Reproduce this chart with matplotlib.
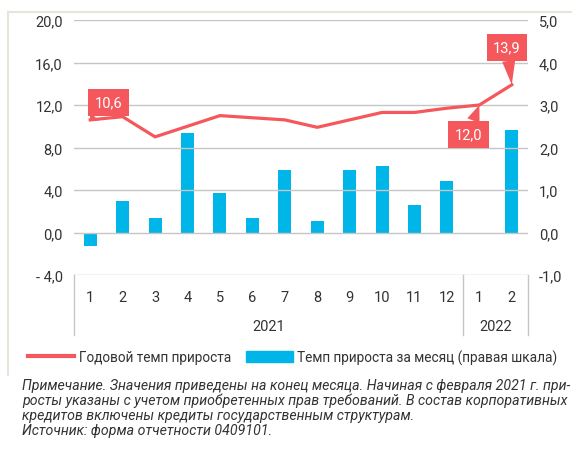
import matplotlib.pyplot as plt
from matplotlib.lines import Line2D
from matplotlib.patches import Patch
import numpy as np

plt.rcParams['font.family'] = ['Roboto', 'DejaVu Sans']

# данные
months = ['1', '2', '3', '4', '5', '6', '7', '8', '9', '10', '11', '12', '1', '2']
years = ['2021', '2022']
year_spans = [(0, 11), (12, 13)]
annual = [10.6, 10.9, 9.0, 10.0, 11.0, 10.8, 10.6, 9.9, 10.6, 11.3, 11.3, 11.7, 12.0, 13.9]
monthly = [-0.32, 0.73, 0.34, 2.35, 0.92, 0.35, 1.46, 0.26, 1.47, 1.56, 0.64, 1.21, -0.03, 2.40]
left_ticks = [-4, 0, 4, 8, 12, 16, 20]
left_labels = ['- 4,0', '0,0', '4,0', '8,0', '12,0', '16,0', '20,0']
right_ticks = [-1, 0, 1, 2, 3, 4, 5]
right_labels = ['-1,0', '0,0', '1,0', '2,0', '3,0', '4,0', '5,0']
labels_shown = {0: (13, 12.5), 12: (-8, -21), 13: (-3.5, 27)}
note = ['Примечание. Значения приведены на конец месяца. Начиная с февраля 2021 г. при-',
        'росты указаны с учетом приобретенных прав требований. В состав корпоративных',
        'кредитов включены кредиты государственным структурам.',
        'Источник: форма отчетности 0409101.']

red = '#F4585C'
blue = '#00B5E8'
grid = '#C6C6C6'
txt = '#333333'

fig = plt.figure(figsize=(5.72, 4.52), dpi=100)
ax = fig.add_axes([74/572, 1-276/452, 454/572, 255/452])
ax2 = ax.twinx()

x = np.arange(len(months))

ax2.bar(x, monthly, width=0.4, color=blue, zorder=2)
ax2.set_ylim(-1, 5)
ax2.set_yticks(right_ticks)
ax2.set_yticklabels(right_labels)

ax.set_ylim(-4, 20)
ax.set_yticks(left_ticks)
ax.set_yticklabels(left_labels)
ax.set_xlim(-0.5, len(months) - 0.5)
ax.yaxis.grid(True, color=grid, lw=1)
ax.set_axisbelow(True)

# линия поверх столбцов
ax.set_zorder(ax2.get_zorder() + 1)
ax.patch.set_visible(False)
ax2.patch.set_visible(True)
ax.plot(x, annual, color=red, lw=2.3, solid_joinstyle='round', zorder=3)

for i, (dx, dy) in labels_shown.items():
    ax.annotate(f'{annual[i]:.1f}'.replace('.', ','), xy=(x[i], annual[i]),
                xytext=(dx, dy), textcoords='offset points',
                ha='center', va='center', color='white', fontsize=10.5,
                bbox=dict(boxstyle='square,pad=0.45', fc=red, ec='none'),
                arrowprops=dict(arrowstyle='wedge,tail_width=0.9,shrink_factor=0.5',
                                fc=red, ec='none', shrinkA=0, shrinkB=0), zorder=5)

for a in (ax, ax2):
    for s in a.spines.values():
        s.set_visible(False)
    a.tick_params(length=0, labelsize=10.5, labelcolor=txt)
ax.tick_params(axis='y', pad=8)
ax2.tick_params(axis='y', pad=8)

ax.set_xticks(x)
ax.set_xticklabels(months)
ax.tick_params(axis='x', pad=11)

# годовая шкала под осью
for (a, b), yr in zip(year_spans, years):
    ax.text((a + b) / 2, -0.2, yr, transform=ax.get_xaxis_transform(),
            ha='center', va='center', fontsize=10.5, color=txt)
for xs in [-0.5, 11.5, len(months) - 0.5]:
    ax.plot([xs, xs], [0, -0.235], transform=ax.get_xaxis_transform(),
            color=grid, lw=1, clip_on=False)

# легенда
handles = [Line2D([], [], color=red, lw=3),
           Patch(color=blue)]
fig.legend(handles, ['Годовой темп прироста', 'Темп прироста за месяц (правая шкала)'],
           loc='center left', bbox_to_anchor=(28/572, 1-358/452), ncol=2,
           frameon=False, fontsize=9.8, handlelength=3.4, handleheight=0.85,
           handletextpad=0.35, columnspacing=1.1, borderpad=0, borderaxespad=0,
           labelcolor=txt)

# рамка
fig.add_artist(Line2D([8/572, 1], [1-13/452, 1-13/452], color='#E8E4DC', lw=1.5))
fig.add_artist(Line2D([8/572, 8/572], [1-13/452, 1-376/452], color='#E8E4DC', lw=1.5))

for k, line in enumerate(note):
    fig.text(22/572, 1-(386 + 15*k)/452, line, fontsize=10.2, style='italic',
             color=txt, va='center', ha='left')

fig.savefig('out.png', dpi=100)
